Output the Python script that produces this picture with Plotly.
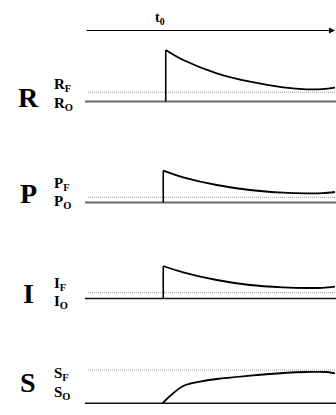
import plotly.graph_objects as go

# ---------------- data ----------------
panels = ["R", "P", "I", "S"]

# time relative to t0 (arbitrary units)
r_t = [0.03, 0.73, 2.07, 3.4, 4.73, 5.67, 6.3, 6.8]
r_v = [51.5, 41.5, 28.2, 19.8, 14.2, 12.2, 12.4, 13.8]
r_final = 9.2

p_t = [-0.07, 0.73, 2.07, 3.4, 4.73, 5.67, 6.3, 6.8]
p_v = [31.8, 25.2, 17.5, 12.5, 9.8, 9.2, 9.4, 10.5]
p_final = 5.2

i_t = [-0.07, 0.73, 2.07, 3.4, 4.73, 5.67, 6.3, 6.8]
i_v = [32.5, 26.2, 18.5, 13.5, 11.2, 10.5, 10.7, 11.8]
i_final = 5.8

s_t = [-0.1, 0.2, 0.73, 1.4, 2.07, 3.4, 4.73, 5.67, 6.47, 6.8]
s_v = [0.0, 7.3, 17.3, 21.6, 24.3, 27.6, 30.3, 31.3, 31.3, 30.0]
s_final = 33.3

t_start, t_end = -3.2, 6.84

# ---------------- layout helpers ----------------
W, H = 336, 415
baseline_px = {"R": 101.5, "P": 202.5, "I": 298.5, "S": 403.3}
base_style = {"R": ("#6a6a6a", 2), "P": ("#6a6a6a", 2), "I": ("#111111", 1.5), "S": ("#111111", 1.5)}
series = {"R": (r_t, r_v, r_final), "P": (p_t, p_v, p_final),
          "I": (i_t, i_v, i_final), "S": (s_t, s_v, s_final)}

fig = go.Figure()
layout = dict(
    width=W, height=H,
    margin=dict(l=0, r=0, t=0, b=0),
    paper_bgcolor="white", plot_bgcolor="white",
    showlegend=False,
    xaxis=dict(domain=[85 / W, 1], range=[t_start, t_end], visible=False),
)
shapes = []
annotations = []
serif = "Liberation Serif, Times New Roman, serif"

for k, name in enumerate(panels):
    ax_key = "yaxis" if k == 0 else f"yaxis{k+1}"
    yref = "y" if k == 0 else f"y{k+1}"
    yb = baseline_px[name]
    ycfg = dict(domain=[0, 1], range=[-(H - yb), yb], visible=False)
    if k > 0:
        ycfg["overlaying"] = "y"
    layout[ax_key] = ycfg

    t, v, final = series[name]
    if name != "S":
        # vertical jump at t0
        fig.add_trace(go.Scatter(x=[t[0], t[0]], y=[0, v[0]], mode="lines",
                                 line=dict(color="black", width=1.6),
                                 yaxis=yref, hoverinfo="skip"))
    fig.add_trace(go.Scatter(x=t, y=v, mode="lines", line_shape="spline",
                             line=dict(color="black", width=1.8),
                             yaxis=yref, hoverinfo="skip"))
    # baseline
    col, lw = base_style[name]
    shapes.append(dict(type="line", xref="paper", yref=yref, x0=85 / W, x1=1,
                       y0=0, y1=0, line=dict(color=col, width=lw), layer="below"))
    # final level (dotted)
    shapes.append(dict(type="line", xref="paper", yref=yref, x0=88 / W, x1=1,
                       y0=final, y1=final,
                       line=dict(color="#9a9a9a", width=1, dash="1px,1px"),
                       layer="below"))

# labels
label_pos = {"R": (98, 85, 104), "P": (193.5, 184, 202), "I": (293.5, 284, 302), "S": (382, 374, 393)}
for name in panels:
    yc, yf, yo = label_pos[name]
    annotations.append(dict(text=f"<b>{name}</b>", xref="paper", yref="paper",
                            x=28 / W, y=1 - yc / H, xanchor="center", yanchor="middle",
                            showarrow=False, font=dict(family=serif, size=28, color="black")))
    annotations.append(dict(text=f"<b>{name}<sub>F</sub></b>", xref="paper", yref="paper",
                            x=52 / W, y=1 - yf / H, xanchor="left", yanchor="middle",
                            showarrow=False, font=dict(family=serif, size=15, color="black")))
    annotations.append(dict(text=f"<b>{name}<sub>O</sub></b>", xref="paper", yref="paper",
                            x=52 / W, y=1 - yo / H, xanchor="left", yanchor="middle",
                            showarrow=False, font=dict(family=serif, size=15, color="black")))

# time arrow
annotations.append(dict(x=6.8, y=1 - 30.5 / H, xref="x", yref="paper",
                        ax=t_start, ay=0, axref="x", ayref="pixel",
                        showarrow=True, arrowhead=2, arrowsize=1, arrowwidth=1.2,
                        arrowcolor="black", text=""))
annotations.append(dict(text="<b>t<sub>0</sub></b>", xref="paper", yref="paper",
                        x=160 / W, y=1 - 18 / H, xanchor="center", yanchor="middle",
                        showarrow=False, font=dict(family=serif, size=14, color="black")))

layout["shapes"] = shapes
layout["annotations"] = annotations
fig.update_layout(**layout)
fig.write_html("out.html",
               config={"displayModeBar": False, "staticPlot": True},
               post_script="document.body.style.margin='0';document.body.style.overflow='hidden';")
